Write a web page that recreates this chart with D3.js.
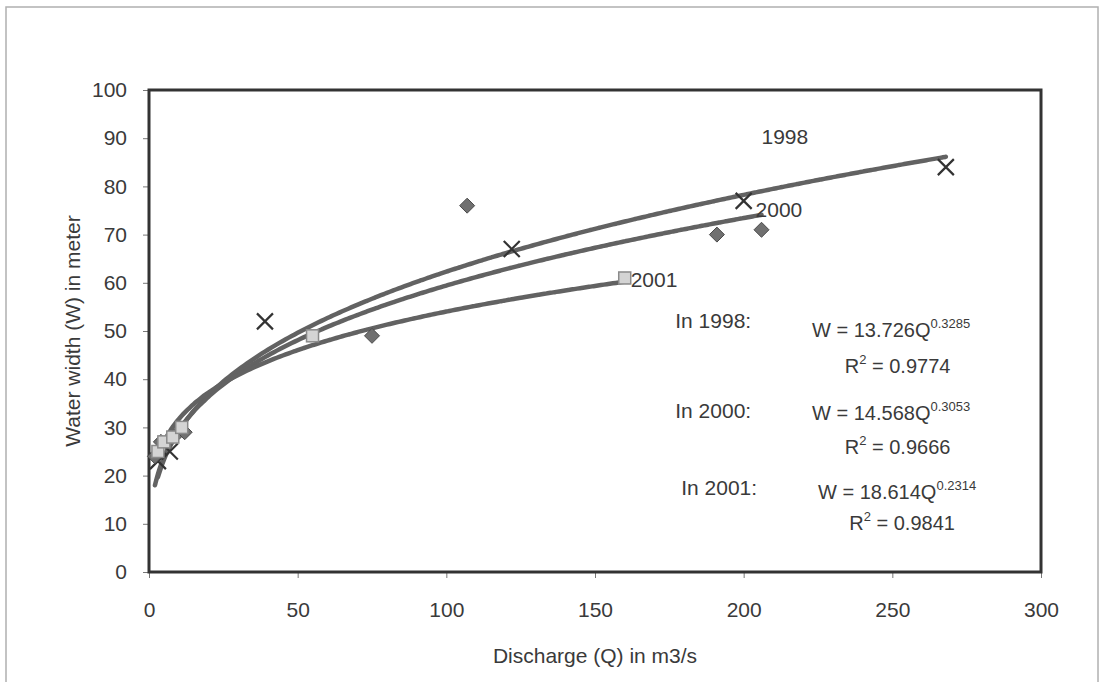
<!DOCTYPE html>
<html lang="en">
<head>
<meta charset="utf-8">
<title>Water width vs discharge</title>
<script src="https://d3js.org/d3.v7.min.js"></script>
<style>
  body { margin: 0; background: #fff; }
  svg text { font-family: "Liberation Sans", Arial, sans-serif; fill: #3a3a3a; }
</style>
</head>
<body>
<div id="chart"></div>
<script>
// data
const years = ["1998", "2000", "2001"];
const q1998 = [3, 7, 39, 122, 200, 268];
const w1998 = [23, 25, 52, 67, 77, 84];
const q2000 = [2, 4, 10, 12, 75, 107, 191, 206];
const w2000 = [24, 27, 29, 29, 49, 76, 70, 71];
const q2001 = [3, 5, 8, 11, 55, 160];
const w2001 = [25, 27, 28, 30, 49, 61];
// trendline coefficients printed on the chart (W = a * Q^b)
const coefA = [13.726, 14.568, 18.614];
const coefB = [0.3285, 0.3053, 0.2314];
const rSquared = ["0.9774", "0.9666", "0.9841"];
const xTicks = [0, 50, 100, 150, 200, 250, 300];
const yTicks = [0, 10, 20, 30, 40, 50, 60, 70, 80, 90, 100];

var margin = {top: 90, right: 59, bottom: 110, left: 149},
    width = 1100 - margin.left - margin.right,
    height = 682 - margin.top - margin.bottom;

const root = d3.select("#chart").append("svg")
    .attr("width", 1100).attr("height", 682);

// scanned page frame
root.append("rect")
    .attr("x", 6).attr("y", 7).attr("width", 1092).attr("height", 700)
    .attr("fill", "none").attr("stroke", "#b0b0b0").attr("stroke-width", 1.5);

const svg = root.append("g")
    .attr("transform", `translate(${margin.left}, ${margin.top})`);

const x = d3.scaleLinear().domain([0, 300]).range([0, width]);
const y = d3.scaleLinear().domain([0, 100]).range([height, 0]);

// axes
const xAxis = svg.append("g")
    .attr("transform", `translate(0, ${height})`)
    .call(d3.axisBottom(x).tickValues(xTicks).tickSize(6).tickPadding(24));
const yAxis = svg.append("g")
    .call(d3.axisLeft(y).tickValues(yTicks).tickSize(6).tickPadding(16));
[xAxis, yAxis].forEach(function(a) {
  a.select(".domain").remove();
  a.selectAll("line").attr("stroke", "#777");
  a.selectAll("text").style("font-size", "21px").attr("fill", "#3a3a3a")
    .style("font-family", "'Liberation Sans', Arial, sans-serif");
});

// plot box
svg.append("rect")
    .attr("width", width).attr("height", height)
    .attr("fill", "none").attr("stroke", "#333").attr("stroke-width", 3);

// axis titles
svg.append("text")
    .attr("x", width / 2).attr("y", height + 91)
    .attr("text-anchor", "middle").style("font-size", "21px")
    .text("Discharge (Q) in m3/s");
svg.append("text")
    .attr("transform", `translate(${-69}, ${height / 2}) rotate(-90)`)
    .attr("text-anchor", "middle").style("font-size", "21px")
    .text("Water width (W) in meter");

// trendlines
const series = [[q1998, w1998], [q2000, w2000], [q2001, w2001]];
const line = d3.line().x(d => x(d[0])).y(d => y(d[1])).curve(d3.curveBasis);
series.forEach(function(s, i) {
  const qs = d3.range(d3.min(s[0]), d3.max(s[0]) + 0.5, 1);
  const pts = qs.map(q => [q, coefA[i] * Math.pow(q, coefB[i])]);
  svg.append("path")
    .datum(pts)
    .attr("d", line)
    .attr("fill", "none")
    .attr("stroke", "#626262")
    .attr("stroke-width", 4.5)
    .attr("stroke-linecap", "round");
});

// 1998: crosses
svg.append("g").selectAll("path")
  .data(q1998.map((q, i) => [q, w1998[i]]))
  .enter().append("path")
    .attr("transform", d => `translate(${x(d[0])}, ${y(d[1])})`)
    .attr("d", "M-8,-8L8,8M-8,8L8,-8")
    .attr("stroke", "#333").attr("stroke-width", 2.2).attr("fill", "none");

// 2000: diamonds
svg.append("g").selectAll("path")
  .data(q2000.map((q, i) => [q, w2000[i]]))
  .enter().append("path")
    .attr("transform", d => `translate(${x(d[0])}, ${y(d[1])})`)
    .attr("d", "M0,-7.5L7.5,0L0,7.5L-7.5,0Z")
    .attr("fill", "#707070").attr("stroke", "#4a4a4a").attr("stroke-width", 1);

// 2001: squares
svg.append("g").selectAll("rect")
  .data(q2001.map((q, i) => [q, w2001[i]]))
  .enter().append("rect")
    .attr("x", d => x(d[0]) - 6).attr("y", d => y(d[1]) - 6)
    .attr("width", 12).attr("height", 12)
    .attr("fill", "#d4d4d4").attr("stroke", "#8a8a8a").attr("stroke-width", 1.5);

// series labels
const labelPos = [[206, 90.3], [204, 75.2], [162, 60.7]];
svg.append("g").selectAll("text")
  .data(years)
  .enter().append("text")
    .attr("x", (d, i) => x(labelPos[i][0]))
    .attr("y", (d, i) => y(labelPos[i][1]))
    .attr("dy", "0.35em")
    .attr("fill", "#555")
    .style("font-size", "21px")
    .text(d => d);

// equations
const inX = [177, 177, 179];
const inY = [50.6, 32.0, 16.0];
const eqX = [223, 223, 225];
const eqY = [48.7, 31.5, 15.2];
const rX = [234, 234, 235.5];
const rY = [41.3, 24.5, 8.7];
years.forEach(function(yr, i) {
  svg.append("text")
    .attr("x", x(inX[i])).attr("y", y(inY[i]))
    .style("font-size", "21px")
    .text("In " + yr + ":");
  const t = svg.append("text")
    .attr("x", x(eqX[i])).attr("y", y(eqY[i]))
    .style("font-size", "20px");
  t.append("tspan").text("W = " + coefA[i].toFixed(3) + "Q");
  t.append("tspan").attr("dy", -9).style("font-size", "13px").text(coefB[i].toFixed(4));
  const r = svg.append("text")
    .attr("x", x(rX[i])).attr("y", y(rY[i]))
    .style("font-size", "20px");
  r.append("tspan").text("R");
  r.append("tspan").attr("dy", -9).style("font-size", "13px").text("2");
  r.append("tspan").attr("dy", 9).text(" = " + rSquared[i]);
});
</script>
</body>
</html>
